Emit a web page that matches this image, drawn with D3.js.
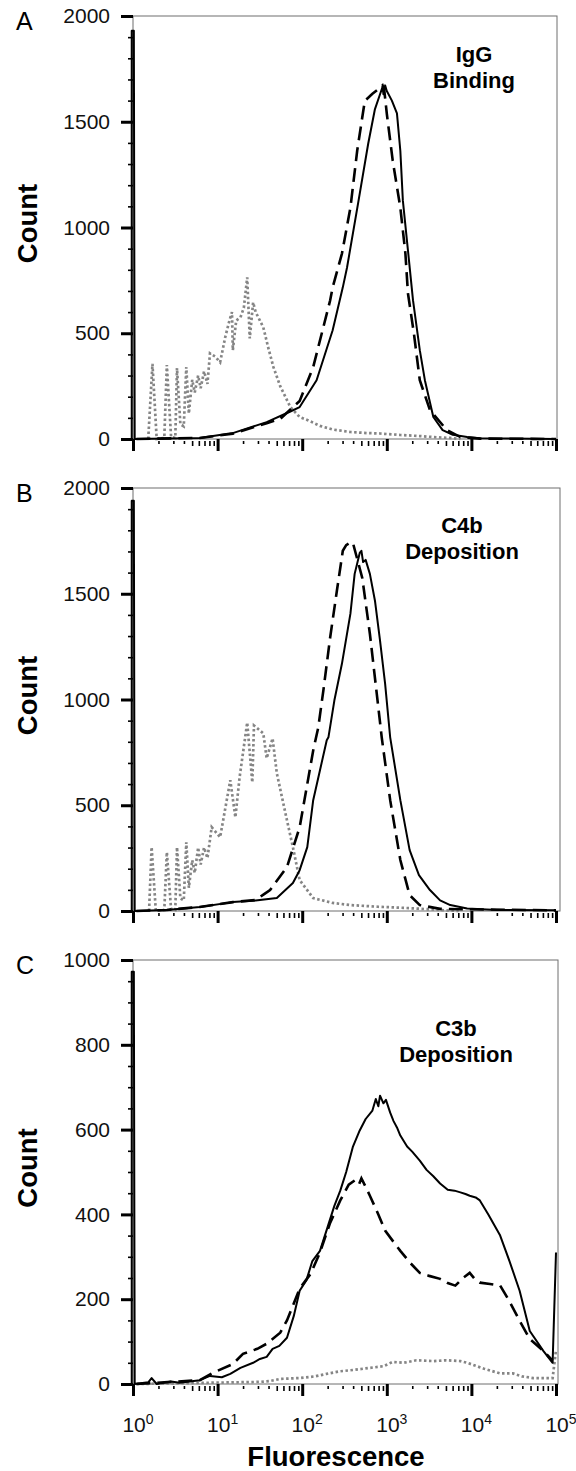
<!DOCTYPE html>
<html>
<head>
<meta charset="utf-8">
<script src="https://cdn.jsdelivr.net/npm/d3@7"></script>
<style>
body { margin: 0; background: #fff; }
svg { font-family: "Liberation Sans", Arial, sans-serif; }
.frame { fill: none; stroke: #6e6e6e; stroke-width: 1; }
.solid { fill: none; stroke: #000; stroke-width: 2; stroke-linejoin: round; }
.dashed { fill: none; stroke: #000; stroke-width: 2.6; stroke-dasharray: 14 7; }
.dotted { fill: none; stroke: #858585; stroke-width: 2.7; stroke-dasharray: 2.5 2.5; }
.label { font-size: 27.5px; font-weight: bold; }
.title { font-size: 22px; font-weight: bold; text-anchor: middle; }
.letter { font-size: 25px; }
</style>
</head>
<body>
<svg width="576" height="1471"></svg>
<script>
const w = 576, h = 1471, left = 133, right = 556;

// x values are log10(fluorescence), y values are event counts
const iggSolid = [[-0.015,0],[-0.015,1930],[0.01,1930],[0.02,0],[0.79,5],[1.18,28],[1.58,80],[1.86,130],[1.97,151],
  [2.17,278],[2.36,514],[2.48,717],[2.53,811],[2.66,1113],[2.78,1396],[2.86,1560],[2.92,1630],[2.95,1665],
  [2.96,1630],[2.98,1672],[3.00,1645],[3.06,1600],[3.12,1540],[3.16,1363],[3.19,1127],[3.25,892],[3.31,655],
  [3.39,420],[3.45,278],[3.55,104],[3.66,42],[3.78,20],[3.95,9],[4.10,3],[5,0]];
const iggDashed = [[0.04,0],[0.79,5],[1.18,25],[1.58,75],[1.74,95],[1.97,180],[2.13,340],[2.33,655],[2.36,717],
  [2.47,877],[2.57,1094],[2.65,1363],[2.74,1599],[2.83,1632],[2.92,1660],[2.95,1672],[2.97,1650],[3.00,1538],
  [3.07,1316],[3.16,1094],[3.22,877],[3.25,689],[3.32,500],[3.39,278],[3.51,137],[3.71,42],[3.87,9],[4.10,2],[5,0]];
const iggGray = [[0.18,0],[0.23,355],[0.28,0],[0.37,5],[0.40,350],[0.45,10],[0.50,5],[0.52,335],[0.56,70],
  [0.60,60],[0.63,340],[0.66,120],[0.70,280],[0.73,220],[0.77,300],[0.80,240],[0.84,320],[0.88,260],[0.91,405],
  [0.97,390],[1.03,363],[1.09,481],[1.14,560],[1.17,600],[1.18,420],[1.22,560],[1.27,575],[1.31,620],[1.35,764],
  [1.38,476],[1.42,646],[1.45,600],[1.50,560],[1.54,528],[1.60,430],[1.66,340],[1.74,250],[1.86,151],[1.97,104],
  [2.06,90],[2.21,62],[2.36,45],[2.57,33],[2.77,28],[2.92,26],[3.16,19],[3.39,14],[3.55,9],[3.75,5],[3.87,0]];

const c4bSolid = [[-0.015,0],[-0.015,1940],[0.01,1940],[0.02,0],[0.40,5],[0.79,19],[1.18,42],[1.45,50],[1.70,61],[1.89,132],
  [1.97,193],[2.06,302],[2.13,524],[2.29,807],[2.31,821],[2.38,995],[2.47,1170],[2.57,1406],[2.62,1594],[2.68,1693],
  [2.70,1703],[2.72,1650],[2.75,1660],[2.80,1594],[2.86,1467],[2.92,1278],[2.98,1075],[3.04,821],[3.16,524],
  [3.27,288],[3.38,170],[3.51,99],[3.63,50],[3.75,28],[3.95,12],[4.30,5],[5,3]];
const c4bDashed = [[0.04,0],[0.40,5],[0.79,19],[1.18,42],[1.45,52],[1.55,80],[1.62,99],[1.82,208],[1.97,396],
  [2.13,759],[2.19,868],[2.25,1042],[2.33,1292],[2.41,1514],[2.48,1703],[2.52,1730],[2.58,1745],[2.60,1740],
  [2.71,1575],[2.80,1311],[2.90,962],[2.94,821],[3.04,524],[3.16,241],[3.27,75],[3.39,28],[3.63,10],[5,3]];
const c4bGray = [[0.19,0],[0.22,302],[0.27,0],[0.37,5],[0.40,278],[0.45,10],[0.50,5],[0.52,302],[0.56,60],
  [0.60,50],[0.63,325],[0.66,110],[0.70,240],[0.73,180],[0.77,300],[0.80,220],[0.84,300],[0.88,250],[0.93,396],
  [1.03,349],[1.15,618],[1.21,443],[1.26,632],[1.35,891],[1.41,608],[1.43,877],[1.54,840],[1.58,722],[1.65,816],
  [1.70,651],[1.82,429],[1.89,302],[1.97,146],[2.13,61],[2.36,38],[2.57,28],[2.90,20],[3.20,15],[3.50,8],[3.70,3],[3.85,0]];

const c3bSolid = [[-0.015,0],[-0.015,972],[0.01,972],[0.02,0],[0.18,4],[0.22,14],[0.28,0],[0.45,6],[0.55,3],[0.79,9],[0.91,19],
  [1.05,16],[1.15,24],[1.27,38],[1.42,50],[1.50,59],[1.58,64],[1.65,83],[1.73,90],[1.82,109],[1.90,160],[1.97,220],
  [2.05,245],[2.12,290],[2.21,314],[2.30,370],[2.38,420],[2.45,456],[2.52,500],[2.60,560],[2.68,598],[2.75,625],
  [2.83,645],[2.87,672],[2.90,655],[2.92,680],[2.96,662],[2.99,670],[3.04,640],[3.08,620],[3.12,605],[3.16,586],
  [3.24,560],[3.30,548],[3.39,527],[3.47,505],[3.55,490],[3.63,473],[3.72,458],[3.80,456],[3.87,452],[3.93,448],
  [3.98,444],[4.05,440],[4.10,433],[4.20,400],[4.34,350],[4.45,290],[4.57,220],[4.69,125],[4.85,78],[4.96,50],[5,310]];
const c3bDashed = [[0.04,0],[0.79,9],[0.94,26],[1.18,47],[1.30,71],[1.47,83],[1.58,95],[1.74,121],[1.82,150],
  [1.97,225],[2.10,260],[2.21,310],[2.33,380],[2.45,433],[2.55,470],[2.62,480],[2.67,470],[2.70,485],[2.75,465],
  [2.80,444],[2.90,400],[2.98,362],[3.08,335],[3.16,314],[3.28,285],[3.39,262],[3.50,255],[3.63,248],[3.72,238],
  [3.81,232],[3.90,250],[3.98,262],[4.05,245],[4.10,239],[4.22,236],[4.34,232],[4.45,195],[4.57,149],[4.69,106],
  [4.85,78],[4.96,55]];
const c3bGray = [[0.04,0],[1.50,5],[1.62,7],[1.74,12],[1.97,14],[2.15,18],[2.29,24],[2.45,30],[2.60,33],[2.80,38],
  [2.96,42],[3.07,52],[3.20,50],[3.35,56],[3.55,54],[3.70,56],[3.87,54],[3.95,50],[4.15,36],[4.34,25],[4.49,25],
  [4.60,18],[4.73,14],[4.90,14],[4.96,14],[5,80]];

const yMajorA = [0, 500, 1000, 1500, 2000];
const yMajorC = [0, 200, 400, 600, 800, 1000];
const decades = [1, 10, 100, 1000, 10000, 100000];

const panels = [
  {letter: "A", top: 16, bottom: 439, frameRight: 557, ymax: 2000, major: yMajorA, minorStep: 100,
   title: ["IgG", "Binding"], titleX: 474, titleY: 62, series: [iggGray, iggDashed, iggSolid]},
  {letter: "B", top: 488, bottom: 911, frameRight: 560, ymax: 2000, major: yMajorA, minorStep: 100,
   title: ["C4b", "Deposition"], titleX: 462, titleY: 533, series: [c4bGray, c4bDashed, c4bSolid]},
  {letter: "C", top: 960, bottom: 1384, frameRight: 558, ymax: 1000, major: yMajorC, minorStep: 50,
   title: ["C3b", "Deposition"], titleX: 456, titleY: 1036, series: [c3bGray, c3bDashed, c3bSolid]}
];
const styles = ["dotted", "dashed", "solid"];

const svg = d3.select("svg");
const scaleX = d3.scaleLog().domain([1, 1e5]).range([left, right]);

const minorX = [];
decades.slice(0, -1).forEach(d => { for (let k = 2; k <= 9; k++) minorX.push(d * k); });

panels.forEach((p, i) => {
  const scaleY = d3.scaleLinear().domain([0, p.ymax]).range([p.bottom, p.top]);
  const g = svg.append("g").attr("class", "panel");

  g.append("rect").attr("class", "frame")
    .attr("x", left).attr("y", p.top)
    .attr("width", p.frameRight - left).attr("height", p.bottom - p.top);

  // curves
  const line = d3.line().x(d => scaleX(Math.pow(10, d[0]))).y(d => scaleY(d[1]));
  p.series.forEach((s, j) => {
    g.append("path").attr("class", styles[j]).attr("d", line(s));
  });

  // y axis, major + minor ticks
  const minorY = d3.range(0, p.ymax + 1, p.minorStep).filter(v => !p.major.includes(v));
  const yMinor = g.append("g").attr("transform", `translate(${left},0)`)
    .call(d3.axisLeft(scaleY).tickValues(minorY).tickSize(5).tickFormat(""));
  const yMajor = g.append("g").attr("transform", `translate(${left},0)`)
    .call(d3.axisLeft(scaleY).tickValues(p.major).tickSize(12).tickPadding(11).tickFormat(d3.format("d")));
  [yMinor, yMajor].forEach(a => a.select(".domain").remove());
  yMinor.selectAll(".tick line").attr("stroke", "#000").attr("stroke-width", 1.6);
  yMajor.selectAll(".tick line").attr("stroke", "#000").attr("stroke-width", 3);
  yMajor.attr("font-size", 21).attr("font-family", null)
    .selectAll("text").attr("fill", "#111");

  // x axis
  const xMinor = g.append("g").attr("transform", `translate(0,${p.bottom})`)
    .call(d3.axisBottom(scaleX).tickValues(minorX).tickSize(6).tickFormat(""));
  const xMajor = g.append("g").attr("transform", `translate(0,${p.bottom})`)
    .call(d3.axisBottom(scaleX).tickValues(decades).tickSize(12).tickFormat(""));
  [xMinor, xMajor].forEach(a => a.select(".domain").remove());
  xMinor.selectAll(".tick line").attr("stroke", "#000").attr("stroke-width", 1.6)
    .attr("y1", 2)
    .attr("y2", d => +String(d)[0] >= 5 ? 7 : 5);
  xMajor.selectAll(".tick line").attr("stroke", "#000").attr("stroke-width", 3);

  if (i === 2) {
    decades.forEach((d, k) => {
      const t = g.append("text").attr("x", scaleX(d) + 5).attr("y", p.bottom + 48)
        .attr("text-anchor", "middle").attr("font-size", 21).attr("fill", "#111");
      t.append("tspan").text("10");
      t.append("tspan").attr("font-size", 14).attr("dy", -8).text(k);
    });
    svg.append("text").attr("class", "label")
      .attr("x", 336).attr("y", 1466)
      .attr("text-anchor", "middle").text("Fluorescence");
  }

  // panel letter, count label, title
  g.append("text").attr("class", "letter").attr("x", 16).attr("y", p.top + 14).text(p.letter);
  g.append("text").attr("class", "label").attr("text-anchor", "middle")
    .attr("transform", `translate(${37},${(p.top + p.bottom) / 2 - 4}) rotate(-90)`)
    .text("Count");
  p.title.forEach((s, k) => {
    g.append("text").attr("class", "title")
      .attr("x", p.titleX).attr("y", p.titleY + k * 26).text(s);
  });
});
</script>
</body>
</html>
